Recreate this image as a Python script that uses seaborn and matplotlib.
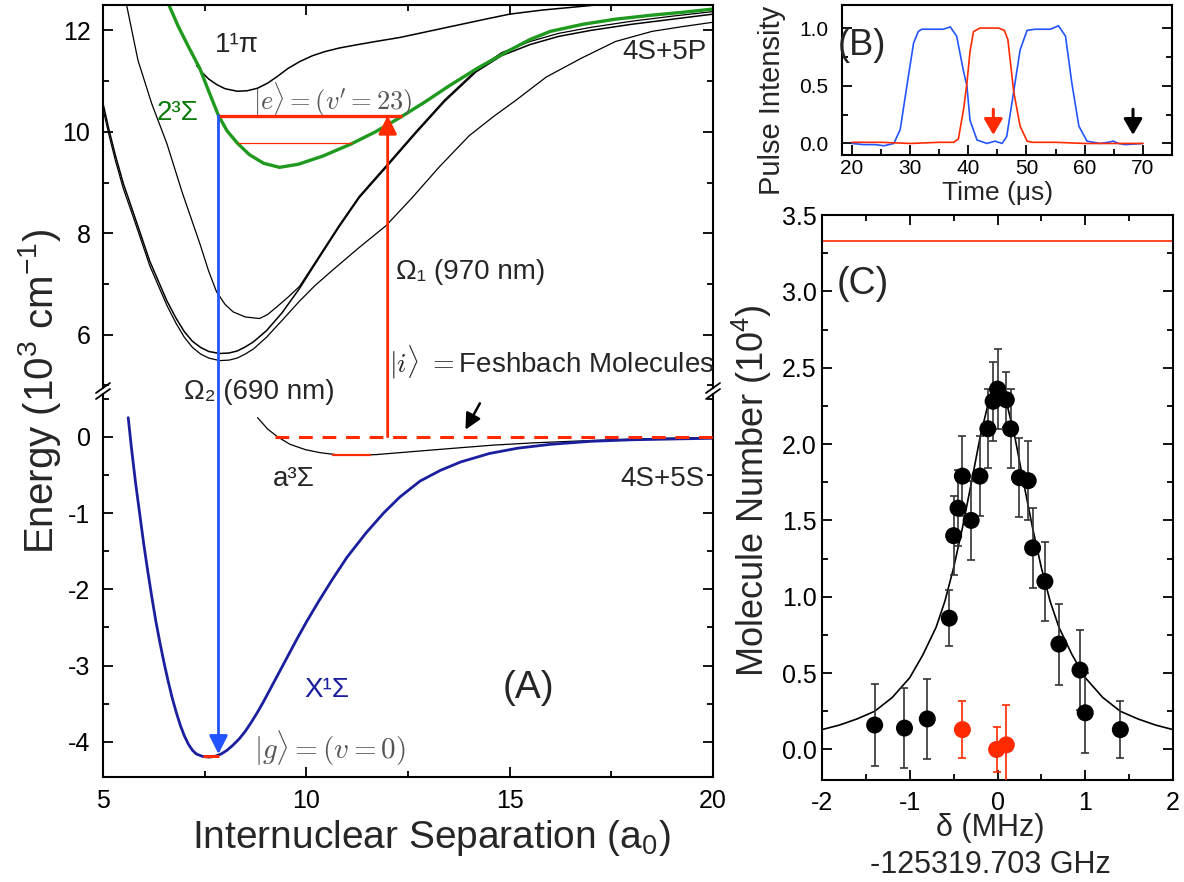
import matplotlib
matplotlib.use("Agg")
import matplotlib.pyplot as plt
import seaborn as sns
from matplotlib.patches import ConnectionPatch
from matplotlib.lines import Line2D
from matplotlib.ticker import MultipleLocator, FormatStrFormatter

# ---------------- data ----------------
# (A) potential curves, upper part (10^3 cm^-1)
pi_x = [7.30, 7.45, 7.60, 7.80, 8.00, 8.30, 8.55, 8.80, 9.05, 9.30, 9.55, 9.85, 10.15,
        10.45, 10.80, 11.20, 11.70, 12.30, 13.00, 13.70, 14.40, 15.00, 15.80, 16.60, 17.40]
pi_y = [11.31, 11.16, 11.04, 10.93, 10.85, 10.80, 10.81, 10.86, 10.96, 11.10, 11.25, 11.39,
        11.50, 11.58, 11.65, 11.71, 11.78, 11.86, 11.98, 12.10, 12.22, 12.32, 12.40, 12.46, 12.52]

green_x = [6.62, 6.85, 7.10, 7.38, 7.60, 7.84, 8.05, 8.30, 8.60, 8.95, 9.34, 9.80, 10.40,
           11.10, 11.70, 12.30, 12.90, 13.50, 14.20, 14.98, 15.50, 16.00, 16.80, 17.60,
           18.50, 19.30, 20.00]
green_y = [12.50, 12.08, 11.68, 11.25, 10.80, 10.32, 10.02, 9.78, 9.55, 9.38, 9.30, 9.36, 9.52,
           9.76, 10.00, 10.28, 10.58, 10.90, 11.25, 11.60, 11.82, 11.98, 12.12, 12.22,
           12.30, 12.36, 12.42]

u1_x = [5.00, 5.15, 5.30, 5.50, 5.74, 6.15, 6.57, 6.80, 7.00, 7.20, 7.40, 7.60, 7.87, 8.10,
        8.30, 8.50, 8.70, 9.02, 9.40, 9.83, 10.30, 10.80, 11.30, 11.96, 12.70, 13.40, 14.17,
        14.80, 15.50, 16.20, 17.00, 18.00, 19.00, 20.00]
u1_y = [10.56, 10.03, 9.55, 8.98, 8.42, 7.45, 6.67, 6.32, 6.06, 5.87, 5.75, 5.67, 5.63, 5.64,
        5.68, 5.76, 5.86, 6.08, 6.43, 6.91, 7.50, 8.12, 8.70, 9.30, 9.98, 10.60, 11.18,
        11.50, 11.72, 11.88, 12.00, 12.12, 12.22, 12.32]

u2_x = [5.00, 5.15, 5.30, 5.50, 5.74, 6.15, 6.57, 6.80, 7.00, 7.20, 7.40, 7.60, 7.87, 8.10,
        8.30, 8.50, 8.70, 9.02, 9.40, 9.83, 10.20, 10.64, 11.30, 11.96, 12.60, 13.26, 14.00,
        14.60, 15.15, 15.90, 16.76, 17.60, 18.50, 19.30, 20.00]
u2_y = [10.45, 9.93, 9.45, 8.88, 8.33, 7.36, 6.58, 6.22, 5.95, 5.75, 5.62, 5.54, 5.49, 5.50,
        5.54, 5.62, 5.72, 5.95, 6.28, 6.66, 6.96, 7.27, 7.72, 8.15, 8.70, 9.30, 9.92,
        10.30, 10.62, 11.08, 11.45, 11.78, 11.98, 12.08, 12.16]

u3_x = [5.58, 5.86, 6.20, 6.57, 6.95, 7.38, 7.60, 7.79, 8.00, 8.20, 8.50, 8.85, 9.05, 9.26,
        9.55, 9.83, 10.30, 10.80, 11.30, 11.96, 12.70, 13.40, 14.17, 14.80, 15.50, 16.20,
        17.00, 18.00, 19.00, 20.00]
u3_y = [12.50, 11.41, 10.55, 9.77, 8.80, 7.80, 7.25, 6.85, 6.60, 6.45, 6.35, 6.32, 6.40, 6.54,
        6.74, 6.95, 7.53, 8.15, 8.73, 9.33, 10.01, 10.63, 11.21, 11.56, 11.78, 11.94, 12.06,
        12.18, 12.28, 12.37]

# (A) potential curves, lower part
xs_x = [5.62, 5.70, 5.80, 5.90, 6.00, 6.10, 6.20, 6.30, 6.40, 6.50, 6.60, 6.70, 6.80, 6.90,
        7.00, 7.10, 7.20, 7.30, 7.45, 7.60, 7.75, 7.90, 8.05, 8.20, 8.35, 8.50, 8.65, 8.80,
        8.95, 9.10, 9.30, 9.50, 9.75, 10.00, 10.30, 10.64, 11.00, 11.47, 11.90, 12.30, 12.80,
        13.30, 13.80, 14.50, 15.20, 16.00, 17.00, 18.00, 19.00, 20.00]
xs_y = [0.25, -0.15, -0.60, -1.00, -1.40, -1.76, -2.10, -2.42, -2.70, -2.96, -3.20, -3.42,
        -3.61, -3.78, -3.92, -4.03, -4.11, -4.16, -4.19, -4.20, -4.19, -4.16, -4.11, -4.04,
        -3.96, -3.86, -3.74, -3.61, -3.47, -3.32, -3.12, -2.92, -2.67, -2.43, -2.16, -1.87,
        -1.58, -1.26, -1.00, -0.79, -0.58, -0.44, -0.33, -0.22, -0.15, -0.10, -0.06, -0.04,
        -0.03, -0.02]

a3_x = [8.80, 9.05, 9.29, 9.60, 9.98, 10.35, 10.74, 11.20, 11.70, 12.50, 13.65, 14.60,
        15.60, 16.50, 17.50, 18.70, 20.00]
a3_y = [0.25, 0.10, 0.00, -0.10, -0.17, -0.21, -0.235, -0.24, -0.235, -0.20, -0.15, -0.11,
        -0.08, -0.06, -0.04, -0.02, -0.01]

# levels and transitions
e_level, e_span = 10.32, [7.84, 12.35]
e2_level, e2_span = 9.77, [8.31, 11.13]
i_level, i_span = 0.0, [9.24, 20.0]
a3_level, a3_span = -0.24, [10.64, 11.60]
g_level, g_span = -4.18, [7.45, 7.85]
omega1_x, omega2_x = 12.0, 7.84

# (B) pulse shapes
tb = [20, 22, 24, 25.5, 27.2, 28.3, 29.45, 30.6, 31.4, 32.0, 33.5, 35.7, 36.9, 38.0, 39.2,
      39.76, 40.3, 41.5, 43.2, 44.6, 45.8, 46.6, 47.8, 48.9, 50.1, 51.5, 53.0, 54.1, 55.5,
      56.7, 57.8, 59.0, 60.4, 62.7, 64.0, 64.9, 65.8, 67, 70]
blue_pulse = [0.00, -0.01, -0.01, -0.02, 0.00, 0.12, 0.50, 0.87, 0.97, 0.99, 0.99, 0.99,
              1.01, 0.93, 0.62, 0.50, 0.20, 0.03, 0.00, 0.02, 0.00, 0.06, 0.45, 0.81, 0.98,
              0.99, 0.99, 0.99, 1.02, 0.93, 0.52, 0.15, 0.02, 0.00, 0.01, 0.02, 0.00, -0.01, 0.00]
tr = [20, 25, 30, 35, 37.5, 38.3, 39.2, 39.76, 40.3, 40.9, 42.0, 43.5, 45.2, 46.2, 46.8,
      47.8, 48.9, 50.1, 51, 55, 60, 65, 70]
red_pulse = [0.01, 0.01, 0.00, 0.01, 0.01, 0.04, 0.30, 0.52, 0.80, 0.97, 1.00, 1.00, 1.00,
             0.98, 0.90, 0.45, 0.15, 0.02, 0.01, 0.01, 0.00, 0.00, 0.00]

# (C) molecule number vs detuning
c_x = [-1.40, -1.06, -0.80, -0.55, -0.50, -0.45, -0.40, -0.30, -0.20, -0.11, -0.05, 0.00,
       0.10, 0.15, 0.25, 0.35, 0.40, 0.54, 0.70, 0.94, 1.00, 1.40]
c_y = [0.16, 0.14, 0.20, 0.86, 1.40, 1.58, 1.79, 1.50, 1.79, 2.10, 2.28, 2.36,
       2.29, 2.10, 1.78, 1.76, 1.32, 1.10, 0.69, 0.52, 0.24, 0.13]
c_err = [0.27, 0.26, 0.26, 0.185, 0.26, 0.25, 0.26, 0.26, 0.26, 0.26, 0.26, 0.26,
         0.18, 0.26, 0.26, 0.26, 0.26, 0.26, 0.265, 0.26, 0.26, 0.185]
r_x = [-0.40, -0.01, 0.10]
r_y = [0.13, 0.00, 0.03]
r_err = [0.185, 0.15, 0.26]
fit_x = [-2.0, -1.8, -1.6, -1.4, -1.2, -1.0, -0.85, -0.7, -0.6, -0.5, -0.4, -0.3, -0.2,
         -0.1, 0.0, 0.1, 0.2, 0.3, 0.4, 0.5, 0.6, 0.7, 0.85, 1.0, 1.2, 1.4, 1.6, 1.8, 2.0]
fit_y = [0.13, 0.16, 0.20, 0.25, 0.34, 0.47, 0.62, 0.80, 0.97, 1.19, 1.45, 1.74, 2.04,
         2.28, 2.37, 2.28, 2.04, 1.74, 1.45, 1.19, 0.97, 0.80, 0.62, 0.47, 0.34, 0.25,
         0.20, 0.16, 0.13]
c_ref = 3.33

# ---------------- style ----------------
sns.set_theme(style="ticks")
plt.rcParams["font.family"] = ["Liberation Sans", "DejaVu Sans"]
plt.rcParams["mathtext.fontset"] = "custom"
plt.rcParams["mathtext.rm"] = "Liberation Sans"
plt.rcParams["mathtext.it"] = "Liberation Sans:italic"
plt.rcParams["mathtext.bf"] = "Liberation Sans:bold"
plt.rcParams["axes.unicode_minus"] = False

RED = "#ff2a00"
BLUE = "#2255ff"
NAVY = "#1a1f9e"
GREEN = "#1f9a1f"
DKGREEN = "#0a7a0a"

W, H = 1184, 882
fig = plt.figure(figsize=(W / 100, H / 100), dpi=100)


def box(l, t, r, b):
    return [l / W, 1 - b / H, (r - l) / W, (b - t) / H]


def curve(ax, xs, ys, color="black", lw=0.9):
    sns.lineplot(x=xs, y=ys, ax=ax, sort=False, estimator=None, color=color,
                 lw=lw, legend=False)


def style(ax, size, pad):
    for sp in ax.spines.values():
        sp.set_linewidth(1.5)
        sp.set_color("black")
    ax.tick_params(which="both", direction="in", top=True, right=True,
                   labelsize=size, pad=pad, width=1.3, colors="black")
    ax.tick_params(which="major", length=7)
    ax.tick_params(which="minor", length=4)
    ax.set_xlabel("")
    ax.set_ylabel("")


# ---------------- panel A ----------------
ax_hi = fig.add_axes(box(103, 5, 713, 388))
ax_lo = fig.add_axes(box(103, 394, 713, 777))

curve(ax_hi, u2_x, u2_y)
curve(ax_hi, u1_x, u1_y, lw=1.1)
curve(ax_hi, u3_x, u3_y)
curve(ax_hi, pi_x, pi_y, lw=1.1)
curve(ax_hi, green_x, green_y, GREEN, 2.4)
ax_hi.hlines(e_level, *e_span, color=RED, lw=2.4, zorder=4)
ax_hi.hlines(e2_level, *e2_span, color=RED, lw=0.9, zorder=4)

curve(ax_lo, a3_x, a3_y)
curve(ax_lo, xs_x, xs_y, NAVY, 2.0)
ax_lo.hlines(i_level, *i_span, color=RED, lw=2.2, linestyles=(0, (4.5, 3.2)), zorder=4)
ax_lo.hlines(a3_level, *a3_span, color=RED, lw=1.6, zorder=4)
ax_lo.hlines(g_level, *g_span, color=RED, lw=2.2, zorder=4)

for ax in (ax_hi, ax_lo):
    style(ax, 18, 9)
    ax.set_xlim(5, 20)
    ax.xaxis.set_major_locator(MultipleLocator(5))
    ax.xaxis.set_minor_locator(MultipleLocator(2.5))

ax_hi.set_ylim(4.95, 12.5)
ax_hi.yaxis.set_major_locator(MultipleLocator(2))
ax_hi.yaxis.set_minor_locator(MultipleLocator(1))
ax_hi.spines["bottom"].set_visible(False)
ax_hi.tick_params(which="both", bottom=False, labelbottom=False)

ax_lo.set_ylim(-4.46, 0.56)
ax_lo.yaxis.set_major_locator(MultipleLocator(1))
ax_lo.yaxis.set_minor_locator(MultipleLocator(0.5))
ax_lo.spines["top"].set_visible(False)
ax_lo.tick_params(which="both", top=False)

# axis break marks
for xp in (103, 713):
    for yp in (388, 394):
        fig.add_artist(Line2D([(xp - 7) / W, (xp + 7) / W],
                              [1 - (yp + 5) / H, 1 - (yp - 5) / H],
                              transform=fig.transFigure, color="black", lw=1.3))

# transition arrows
fig.add_artist(ConnectionPatch(xyA=(omega1_x, i_level), coordsA=ax_lo.transData,
                               xyB=(omega1_x, e_level), coordsB=ax_hi.transData,
                               arrowstyle="-|>,head_length=0.8,head_width=0.4",
                               mutation_scale=14, color=RED, lw=2.0, zorder=5))
fig.add_artist(ConnectionPatch(xyA=(omega2_x, e_level), coordsA=ax_hi.transData,
                               xyB=(omega2_x, g_level + 0.02), coordsB=ax_lo.transData,
                               arrowstyle="-|>,head_length=0.8,head_width=0.4",
                               mutation_scale=14, color=BLUE, lw=2.0, zorder=5))
ax_lo.annotate("", xy=(13.88, 0.06), xytext=(14.3, 0.47),
               arrowprops=dict(arrowstyle="-|>,head_length=0.6,head_width=0.3",
                               mutation_scale=16, color="black", lw=1.8))

# labels in A
ax_hi.text(8.3, 11.72, "1¹π", fontsize=20, ha="center", va="center")
ax_hi.text(6.84, 10.38, "2³Σ", fontsize=20, ha="center", va="center", color=DKGREEN)
ax_hi.text(8.68, 10.64, r"$|e\rangle = (v^{\prime} = 23)$", fontsize=19, color="#555555",
           ha="left", va="center", math_fontfamily="cm")
ax_hi.text(19.85, 11.57, "4S+5P", fontsize=20, ha="right", va="center")
ax_hi.text(12.2, 7.23, "Ω₁ (970 nm)", fontsize=20, ha="left", va="center")
ax_hi.text(12.03, 5.47, r"$|i\rangle\ =$Feshbach Molecules", fontsize=20, ha="left",
           va="center", math_fontfamily="cm")
ax_lo.text(7.0, 0.58, "Ω₂ (690 nm)", fontsize=20, ha="left", va="center", clip_on=False)
ax_lo.text(9.7, -0.56, "a³Σ", fontsize=20, ha="center", va="center")
ax_lo.text(19.8, -0.56, "4S+5S", fontsize=20, ha="right", va="center")
ax_lo.text(10.5, -3.32, "X¹Σ", fontsize=20, ha="center", va="center", color=NAVY)
ax_lo.text(15.45, -3.3, "(A)", fontsize=28, ha="center", va="center")
ax_lo.text(8.72, -4.08, r"$|g\rangle = (v = 0)$", fontsize=21, color="#555555",
           ha="left", va="center", math_fontfamily="cm")

fig.text(40 / W, 1 - 391 / H, "Energy (10$^3$ cm$^{-1}$)", fontsize=29, rotation=90,
         ha="center", va="center")
fig.text(431 / W, 1 - 838 / H, "Internuclear Separation (a$_0$)", fontsize=28,
         ha="center", va="center")

# ---------------- panel B ----------------
ax_b = fig.add_axes(box(842, 5, 1172, 155))
curve(ax_b, tb, blue_pulse, BLUE, 1.2)
curve(ax_b, tr, red_pulse, RED, 1.2)
style(ax_b, 15, 10)
ax_b.tick_params(which="both", top=False, pad=10)
ax_b.tick_params(axis="x", pad=3)
ax_b.set_xlim(18.3, 75)
ax_b.set_ylim(-0.1, 1.2)
ax_b.xaxis.set_major_locator(MultipleLocator(10))
ax_b.xaxis.set_minor_locator(MultipleLocator(5))
ax_b.yaxis.set_major_locator(MultipleLocator(0.5))
ax_b.yaxis.set_minor_locator(MultipleLocator(0.25))
ax_b.annotate("", xy=(44.3, 0.05), xytext=(44.3, 0.32),
              arrowprops=dict(arrowstyle="-|>,head_length=0.6,head_width=0.35",
                              mutation_scale=16, color=RED, lw=2.2))
ax_b.annotate("", xy=(68.3, 0.05), xytext=(68.3, 0.32),
              arrowprops=dict(arrowstyle="-|>,head_length=0.6,head_width=0.35",
                              mutation_scale=16, color="black", lw=2.2))
ax_b.text(21.7, 0.85, "(B)", fontsize=26, ha="center", va="center")
fig.text(772 / W, 1 - 100 / H, "Pulse Intensity", fontsize=21, rotation=90,
         ha="center", va="center")
fig.text(998 / W, 1 - 193 / H, "Time (μs)", fontsize=19, ha="center", va="center")

# ---------------- panel C ----------------
ax_c = fig.add_axes(box(822, 215, 1173, 780))
ax_c.axhline(c_ref, color=RED, lw=1.2)
curve(ax_c, fit_x, fit_y, "black", 1.2)
ax_c.errorbar(c_x, c_y, yerr=c_err, fmt="none", ecolor="#333333", elinewidth=1.2,
              capsize=3, capthick=1.2, zorder=3)
ax_c.errorbar(r_x, r_y, yerr=r_err, fmt="none", ecolor=RED, elinewidth=1.2,
              capsize=3, capthick=1.2, zorder=3)
sns.scatterplot(x=c_x, y=c_y, ax=ax_c, color="black", s=150, edgecolor="none", zorder=4)
sns.scatterplot(x=r_x, y=r_y, ax=ax_c, color=RED, s=150, edgecolor="none", zorder=4)
style(ax_c, 18, 4)
ax_c.tick_params(axis="x", pad=8)
ax_c.set_xlim(-2, 2)
ax_c.set_ylim(-0.2, 3.5)
ax_c.xaxis.set_major_locator(MultipleLocator(1))
ax_c.xaxis.set_minor_locator(MultipleLocator(0.5))
ax_c.yaxis.set_major_locator(MultipleLocator(0.5))
ax_c.yaxis.set_minor_locator(MultipleLocator(0.25))
ax_c.yaxis.set_major_formatter(FormatStrFormatter("%.1f"))
ax_c.text(-1.53, 3.05, "(C)", fontsize=27, ha="center", va="center")
fig.text(752 / W, 1 - 491 / H, "Molecule Number (10$^4$)", fontsize=26, rotation=90,
         ha="center", va="center")
fig.text(990 / W, 1 - 828 / H, "δ (MHz)", fontsize=22, ha="center", va="center")
fig.text(990 / W, 1 - 865 / H, "-125319.703 GHz", fontsize=22, ha="center", va="center")

fig.savefig("out.png", dpi=100)
